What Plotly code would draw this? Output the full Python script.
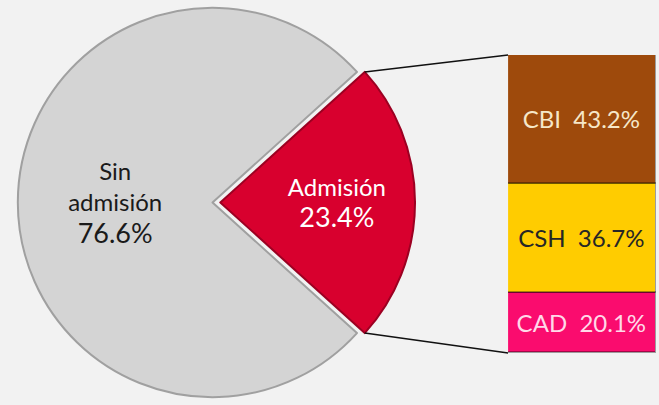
import math
import plotly.graph_objects as go

# pie data
pie_labels = ["Admisión", "Sin admisión"]
pie_values = [23.4, 76.6]
pie_colors = ["#D8002E", "#D4D4D4"]

# breakdown of "Admisión"
bar_labels = ["CAD", "CSH", "CBI"]
bar_values = [20.1, 36.7, 43.2]
bar_colors = ["#FA0C6E", "#FFCC00", "#9E4A0C"]
bar_text_colors = ["#FFD9E8", "#262626", "#F6E7C8"]

W, H = 659, 405
FONT = "Lato, sans-serif"
pull = 0.04
pie_dom_x = [0.0150, 0.630]
pie_dom_y = [0.0, 1.0]
bar_dom_x = [0.771, 0.996]
bar_dom_y = [0.1284, 0.8642]

fig = go.Figure()

fig.add_trace(go.Pie(
    labels=pie_labels,
    values=pie_values,
    sort=False,
    direction="clockwise",
    rotation=90 - pie_values[0] / sum(pie_values) * 180,
    pull=[pull, 0],
    marker=dict(colors=pie_colors, line=dict(color=["#9c0022", "#a0a0a0"], width=2)),
    texttemplate=[
        "Admisión<br><span style='font-size:27px'>%{percent:.1%}</span>",
        "Sin<br>admisión<br><span style='font-size:27px'>%{percent:.1%}</span>",
    ],
    textposition="inside",
    insidetextorientation="horizontal",
    insidetextfont=dict(color=["#FFFFFF", "#1a1a1a"], size=24, family=FONT),
    domain=dict(x=pie_dom_x, y=pie_dom_y),
    showlegend=False,
    hoverinfo="label+percent",
))

for lab, val, col, tcol in zip(bar_labels, bar_values, bar_colors, bar_text_colors):
    fig.add_trace(go.Bar(
        x=[0], y=[val],
        marker=dict(color=col, line=dict(color="rgba(0,0,0,0.35)", width=1.5)),
        text=[f"{lab}  {val:.1f}%"],
        textposition="inside",
        insidetextanchor="middle",
        textangle=0,
        constraintext="none",
        textfont=dict(color=tcol, size=24, family=FONT),
        showlegend=False,
        name=lab,
    ))

# connector lines from the pulled slice to the bar corners
r = min(W * (pie_dom_x[1] - pie_dom_x[0]), H * (pie_dom_y[1] - pie_dom_y[0])) / (2 * (1 + pull))
cx = W * sum(pie_dom_x) / 2 + pull * r
cy = H * (1 - sum(pie_dom_y) / 2)
half = math.radians(pie_values[0] / sum(pie_values) * 180)
for sgn, by in [(1, bar_dom_y[1]), (-1, bar_dom_y[0])]:
    px = cx + r * math.cos(half)
    py = cy - sgn * r * math.sin(half)
    fig.add_shape(type="line", xref="paper", yref="paper",
                  x0=px / W, y0=1 - py / H, x1=bar_dom_x[0], y1=by,
                  line=dict(color="#111111", width=1.5))

fig.update_layout(
    width=W, height=H,
    margin=dict(l=0, r=0, t=0, b=0),
    paper_bgcolor="#F2F2F2",
    plot_bgcolor="#F2F2F2",
    barmode="stack",
    bargap=0,
    font_family=FONT,
    xaxis=dict(domain=bar_dom_x, visible=False, range=[-0.5, 0.5], fixedrange=True),
    yaxis=dict(domain=bar_dom_y, visible=False, range=[0, 100], fixedrange=True),
)

fig.write_html("out.html", config={"displayModeBar": False},
               post_script="document.body.style.margin='0';document.body.style.overflow='hidden';")
